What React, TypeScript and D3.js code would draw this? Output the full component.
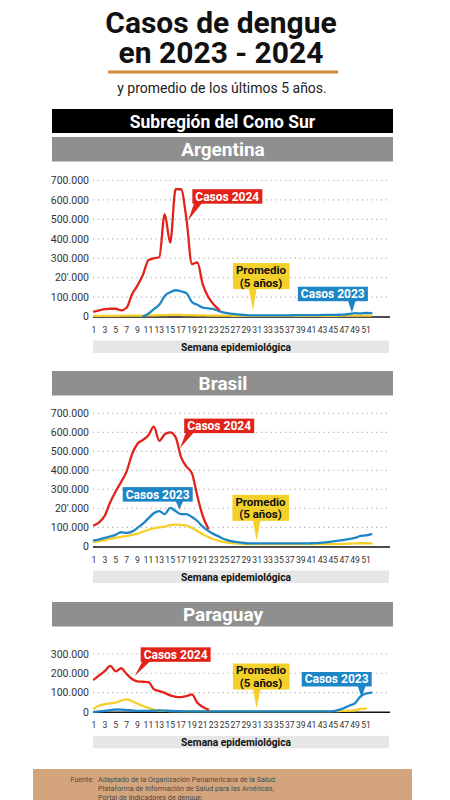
import React, { useEffect, useRef } from 'react';
import * as d3 from 'd3';

// semanas epidemiológicas 1..52 (índice 0 = semana 1)
const weeks = d3.range(1, 53);
const weekTicks = d3.range(1, 52, 2);

// casos en miles
const argentina2024 = [25, 32, 38, 40, 40, 32, 45, 115, 160, 215, 290, 300, 305, 527, 380, 655, 655, 500, 270, 278, 165, 100, 62, 35];
const argentina2023 = [null, null, null, null, null, null, null, null, null,
  0, 15, 38, 60, 105, 125, 135, 130, 120, 75, 60, 46, 42, 38, 28, 20, 15, 12, 9, 7,
  6, 6, 6, 6, 6, 6, 6, 6, 7, 7, 7, 7, 7, 8, 8, 8, 9, 10, 13, 17, 16, 18, 17];
const argentinaPromedio = [3, 3, 3, 3, 3, 4, 4, 4, 5, 5, 6, 6, 7, 7, 8, 8, 8, 7, 7, 6,
  6, 5, 5, 4, 4, 4, 3, 3, 3, 3, 3, 3, 3, 3, 3, 3, 3, 3, 3, 3,
  3, 3, 3, 3, 3, 4, 4, 4, 5, 5, 5, 5];

const brasil2024 = [111, 128, 163, 234, 290, 340, 395, 485, 540, 560, 585, 630, 555, 590, 600, 575, 470, 420, 385, 265, 160, 95];
const brasil2023 = [32, 38, 45, 53, 62, 75, 72, 78, 98, 120, 148, 175, 186, 170, 203, 186, 170, 170, 155, 134,
  104, 82, 65, 52, 38, 30, 24, 20, 17, 16, 16, 16, 16, 16, 16, 16, 16, 16, 16, 16,
  17, 18, 20, 23, 27, 31, 35, 40, 45, 56, 58, 65];
const brasilPromedio = [23, 28, 34, 40, 46, 51, 55, 61, 68, 78, 88, 95, 100, 104, 112, 115, 114, 110, 98, 82,
  64, 50, 38, 30, 23, 19, 16, 14, 13, 13, 13, 13, 13, 13, 13, 13, 13, 13, 13, 13,
  13, 13, 13, 13, 13, 13, 14, 15, 16, 17, 17, 16];

const paraguay2024 = [168, 190, 212, 238, 210, 226, 196, 170, 158, 156, 154, 118, 107, 98, 85, 78, 76, 82, 90, 47, 25, 12];
const paraguay2023 = [0, 2, 5, 9, 12, 11, 9, 7, 5, 5, 5, 6, 7, 6, 5, 4, 3, 2, 2, 2,
  2, 2, 2, 2, 2, 2, 2, 2, 2, 2, 2, 2, 2, 2, 2, 2, 2, 2, 2, 2,
  2, 2, 2, 2, 4, 10, 20, 33, 45, 80, 95, 100];
const paraguayPromedio = [17, 33, 40, 44, 48, 58, 64, 55, 42, 30, 20, 10, 6, 5, 4, 4, 4, 4, 4, 4,
  4, 4, 4, 4, 4, 4, 4, 4, 4, 4, 4, 4, 4, 4, 4, 4, 4, 4, 4, 4,
  4, 4, 4, 4, 4, 4, 5, 6, 8, 15, 17];

const yTicksBig = [0, 100, 200, 300, 400, 500, 600, 700];
const yLabelsBig = ['0', '100.000', "20'.000", '300.000', '400.000', '500.000', '600.000', '700.000'];
const yTicksSmall = [0, 100, 200, 300];
const yLabelsSmall = ['0', '100.000', '200.000', '300.000'];

const RED = '#e2231a';
const BLUE = '#1d86c6';
const YELLOW = '#f3d02a';
const FONT = 'Roboto, "Noto Sans", sans-serif';

const panels = [
  {
    name: 'Argentina', head: 137, yTop: 180.5, yBase: 316.5, max: 700,
    ticks: yTicksBig, labels: yLabelsBig,
    promedio: argentinaPromedio, c2023: argentina2023, c2024: argentina2024,
    notes: [
      { lines: ['Casos 2024'], fill: RED, color: '#fff', at: [25.5, 618], tip: [18.3, 494] },
      { lines: ['Promedio', '(5 años)'], fill: YELLOW, color: '#111', at: [31.7, 208], tip: [30.2, 31] },
      { lines: ['Casos 2023'], fill: BLUE, color: '#fff', at: [44.9, 116], tip: [48.4, 21] },
    ],
  },
  {
    name: 'Brasil', head: 371, yTop: 413.3, yBase: 546.5, max: 700,
    ticks: yTicksBig, labels: yLabelsBig,
    promedio: brasilPromedio, c2023: brasil2023, c2024: brasil2024,
    notes: [
      { lines: ['Casos 2024'], fill: RED, color: '#fff', at: [24.0, 634], tip: [16.8, 516] },
      { lines: ['Casos 2023'], fill: BLUE, color: '#fff', at: [12.7, 274], tip: [16.7, 193] },
      { lines: ['Promedio', '(5 años)'], fill: YELLOW, color: '#111', at: [31.6, 203], tip: [30.9, 32] },
    ],
  },
  {
    name: 'Paraguay', head: 602, yTop: 654, yBase: 711.8, max: 300,
    ticks: yTicksSmall, labels: yLabelsSmall,
    promedio: paraguayPromedio, c2023: paraguay2023, c2024: paraguay2024,
    notes: [
      { lines: ['Casos 2024'], fill: RED, color: '#fff', at: [16.0, 297], tip: [8.5, 186] },
      { lines: ['Promedio', '(5 años)'], fill: YELLOW, color: '#111', at: [31.7, 183], tip: [30.9, 19] },
      { lines: ['Casos 2023'], fill: BLUE, color: '#fff', at: [45.6, 169], tip: [50.2, 71] },
    ],
  },
];

export default function App() {
  const ref = useRef(null);

  useEffect(() => {
    const svg = d3.select(ref.current);
    svg.selectAll('*').remove();
    svg.style('font-family', FONT);

    // cabecera
    svg.append('text').attr('x', 221).attr('y', 33).attr('text-anchor', 'middle')
      .style('font-size', '30px').style('font-weight', 700).style('fill', '#111')
      .text('Casos de dengue');
    svg.append('text').attr('x', 221).attr('y', 62.5).attr('text-anchor', 'middle')
      .style('font-size', '30px').style('font-weight', 700).style('fill', '#111')
      .text('en 2023 - 2024');
    svg.append('line').attr('x1', 108).attr('x2', 338).attr('y1', 72).attr('y2', 72)
      .style('stroke', '#d48a3e').style('stroke-width', 3);
    svg.append('text').attr('x', 222).attr('y', 93).attr('text-anchor', 'middle')
      .style('font-size', '14px').style('fill', '#222')
      .text('y promedio de los últimos 5 años.');
    svg.append('rect').attr('x', 52).attr('y', 109).attr('width', 341).attr('height', 24)
      .style('fill', '#000');
    svg.append('text').attr('x', 222.5).attr('y', 127.5).attr('text-anchor', 'middle')
      .style('font-size', '17.5px').style('font-weight', 700).style('fill', '#fff')
      .text('Subregión del Cono Sur');

    const x = d3.scaleLinear().domain([1, 51]).range([94, 366]);

    panels.forEach((p) => {
      const g = svg.append('g');
      const y = d3.scaleLinear().domain([0, p.max]).range([p.yBase, p.yTop]);

      g.append('rect').attr('x', 52).attr('y', p.head).attr('width', 341).attr('height', 24.5)
        .style('fill', '#8f8f8f');
      g.append('text').attr('x', 223).attr('y', p.head + 19).attr('text-anchor', 'middle')
        .style('font-size', '19px').style('font-weight', 700).style('fill', '#fff')
        .text(p.name);

      // rejilla punteada
      g.selectAll('.grid').data(p.ticks.filter((t) => t > 0)).enter()
        .append('line')
        .attr('x1', 93).attr('x2', 388)
        .attr('y1', (d) => y(d)).attr('y2', (d) => y(d))
        .style('stroke', '#b5b5b5').style('stroke-width', 1.2)
        .style('stroke-dasharray', '1.2,3.6');
      g.selectAll('.ylab').data(p.ticks).enter()
        .append('text')
        .attr('x', 89).attr('y', (d) => y(d) + 3.8)
        .attr('text-anchor', 'end')
        .style('font-size', '10.5px').style('fill', '#333')
        .text((d, i) => p.labels[i]);

      // eje x
      g.append('line').attr('x1', 93).attr('x2', 390).attr('y1', y(0) + 0.5).attr('y2', y(0) + 0.5)
        .style('stroke', '#111').style('stroke-width', 1.4);
      g.selectAll('.xlab').data(weekTicks).enter()
        .append('text')
        .attr('x', (d) => x(d)).attr('y', y(0) + 16.5)
        .attr('text-anchor', 'middle')
        .style('font-size', '8.6px').style('fill', '#333')
        .text((d) => d);
      g.append('rect').attr('x', 93).attr('y', y(0) + 24).attr('width', 296).attr('height', 12.5)
        .style('fill', '#e6e6e6');
      g.append('text').attr('x', 236).attr('y', y(0) + 34).attr('text-anchor', 'middle')
        .style('font-size', '10.2px').style('font-weight', 700).style('fill', '#111')
        .text('Semana epidemiológica');

      const line = d3.line()
        .defined((d) => d != null)
        .x((d, i) => x(weeks[i]))
        .y((d) => y(d))
        .curve(d3.curveMonotoneX);

      [[p.promedio, YELLOW], [p.c2023, BLUE], [p.c2024, RED]].forEach(([vals, col]) => {
        g.append('path')
          .datum(vals)
          .attr('d', line)
          .style('fill', 'none')
          .style('stroke', col)
          .style('stroke-width', 2.3)
          .style('stroke-linejoin', 'round')
          .style('stroke-linecap', 'round');
      });

      // etiquetas
      p.notes.forEach((n) => {
        const ng = g.append('g');
        const cx = x(n.at[0]);
        const cy = y(n.at[1]);
        const lh = 12.5;
        const fs = n.lines.length > 1 ? 11.5 : 12;
        const t = ng.append('g');
        n.lines.forEach((l, i) => {
          t.append('text')
            .attr('text-anchor', 'middle')
            .attr('x', cx)
            .attr('y', cy + 4.2 - ((n.lines.length - 1) * lh) / 2 + i * lh)
            .style('font-size', `${fs}px`).style('font-weight', 700).style('fill', n.color)
            .text(l);
        });
        const bb = t.node().getBBox();
        const bx = bb.x - 3;
        const bw = bb.width + 6;
        const bh = n.lines.length > 1 ? n.lines.length * lh + 1 : 14.5;
        const by = cy - bh / 2;
        const tx = x(n.tip[0]);
        const ty = y(n.tip[1]);
        const baseY = ty > cy ? by + bh - 1 : by + 1;
        const baseX = Math.max(bx + 6, Math.min(bx + bw - 6, tx));
        ng.insert('path', 'g')
          .attr('d', `M${baseX - 4},${baseY}L${tx},${ty}L${baseX + 4},${baseY}Z`)
          .style('fill', n.fill);
        ng.insert('rect', 'g')
          .attr('x', bx).attr('y', by).attr('width', bw).attr('height', bh)
          .style('fill', n.fill);
      });
    });

    // fuente
    svg.append('rect').attr('x', 33).attr('y', 769).attr('width', 379).attr('height', 31)
      .style('fill', '#d4a57d');
    svg.append('text').attr('x', 94).attr('y', 781.5).attr('text-anchor', 'end')
      .style('font-size', '7.2px').style('fill', '#4a4a4a').text('Fuente:');
    ['Adaptado de la Organización Panamericana de la Salud.',
      'Plataforma de Información de Salud para las Américas,',
      'Portal de Indicadores de dengue.'].forEach((l, i) => {
      svg.append('text').attr('x', 98).attr('y', 781.5 + i * 9)
        .style('font-size', '7.2px').style('fill', '#4a4a4a').text(l);
    });
  }, []);

  return (
    <svg
      ref={ref}
      width={450}
      height={800}
      style={{ position: 'absolute', left: 0, top: 0, background: '#fff' }}
    />
  );
}
